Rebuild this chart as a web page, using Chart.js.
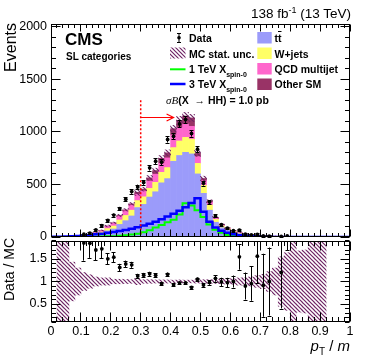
<!DOCTYPE html>
<html><head><meta charset="utf-8">
<script src="https://cdn.jsdelivr.net/npm/chart.js"></script>
<style>
html,body{margin:0;padding:0;background:#fff;}
#wrap{position:relative;width:374px;height:359px;font-family:"Liberation Sans",Arial,Helvetica,sans-serif;overflow:hidden;background:#fff;}
canvas{position:absolute;left:0;top:0;}
.t{position:absolute;white-space:nowrap;color:#000;line-height:1;}
.lg{position:absolute;white-space:nowrap;color:#000;line-height:1;font-size:10.5px;font-weight:bold;}
.sub{font-size:7px;position:relative;top:3.5px;}
.v{position:absolute;white-space:nowrap;line-height:1;writing-mode:vertical-rl;transform:rotate(180deg);color:#000;}
</style></head>
<body><div id="wrap">
<canvas id="main" width="374" height="359"></canvas>
<canvas id="ratio" width="374" height="359"></canvas>
<svg width="374" height="359" style="position:absolute;left:0;top:0">
<defs><pattern id="hp" width="4" height="4" patternUnits="userSpaceOnUse"><path d="M0,0 L4,4 M-1,3 L1,5 M3,-1 L5,1" stroke="rgb(110,35,100)" stroke-width="1.2"/></pattern></defs>
<line x1="179" y1="33" x2="179" y2="42.5" stroke="#000" stroke-width="1"/>
<line x1="177" y1="33.5" x2="181" y2="33.5" stroke="#000" stroke-width="1"/>
<line x1="177" y1="42.5" x2="181" y2="42.5" stroke="#000" stroke-width="1"/>
<circle cx="179" cy="37.7" r="1.8" fill="#000"/>
<rect x="170" y="47.5" width="15.5" height="11" fill="url(#hp)"/>
<line x1="170" y1="69.3" x2="185.5" y2="69.3" stroke="#00ff00" stroke-width="2"/>
<line x1="170" y1="84" x2="185.5" y2="84" stroke="#0000ff" stroke-width="2.5"/>
<rect x="257.3" y="32" width="14.4" height="11.5" fill="rgb(155,155,250)"/>
<rect x="257.3" y="47.5" width="14.4" height="11.5" fill="rgb(255,255,102)"/>
<rect x="257.3" y="63" width="14.4" height="11.5" fill="rgb(255,102,204)"/>
<rect x="257.3" y="78.5" width="14.4" height="11.5" fill="rgb(153,51,102)"/>
</svg>
<div class="t" style="right:23px;top:6.8px;font-size:13.5px">138 fb<span style="font-size:9px;position:relative;top:-5px">-1</span> (13 TeV)</div>
<div class="t" style="left:65px;top:30.6px;font-size:17px;font-weight:bold">CMS</div>
<div class="t" style="left:66px;top:52px;font-size:10px;font-weight:bold">SL categories</div>
<div class="lg" style="left:189px;top:32.6px">Data</div>
<div class="lg" style="left:189px;top:48.6px">MC stat. unc.</div>
<div class="lg" style="left:189px;top:64.1px">1 TeV X<span class="sub">spin-0</span></div>
<div class="lg" style="left:189px;top:79.2px">3 TeV X<span class="sub">spin-0</span></div>
<div class="lg" style="left:166px;top:94.9px"><span style="font-family:'Liberation Serif',serif;font-style:italic;font-weight:normal;font-size:11px">σB</span>(X &nbsp;→ HH) = 1.0 pb</div>
<div class="lg" style="left:274.5px;top:32.6px">t<span style="text-decoration:overline">t</span></div>
<div class="lg" style="left:274.5px;top:48.6px">W+jets</div>
<div class="lg" style="left:274.5px;top:64.1px">QCD multijet</div>
<div class="lg" style="left:274.5px;top:79.2px">Other SM</div>
<div class="v" style="left:3px;top:23px;font-size:16px">Events</div>
<div class="v" style="left:2px;top:238px;font-size:14px">Data / MC</div>
<div class="t" style="right:24px;top:338px;font-size:15px"><i>p</i><sub style="font-size:10px;vertical-align:-4px">T</sub> / <i>m</i></div>
</div>
<script>
// ---- data ----
const binEdges = [0,0.02,0.04,0.06,0.08,0.1,0.12,0.14,0.16,0.18,0.2,0.22,0.24,0.26,0.28,0.3,0.32,0.34,0.36,0.38,0.4,0.42,0.44,0.46,0.48,0.5,0.52,0.54,0.56,0.58,0.6,0.62,0.64,0.66,0.68,0.7,0.72,0.74,0.76,0.78,0.8,0.82,0.84,0.86,0.88,0.9,0.92,0.94,0.96,0.98,1];
const ttbar   = [0,1,1.5,2.5,4,7,10,21,34,58, 76,120,155,200,280,310,380,430,515,555, 720,775,805,790,600,415,255,140,88,63, 44,31,22,16,11.5,8.6,6.5,5,3.6,2.9, 2.2,1.8,1.5,1.1,0.9,0.7,0,0,0,0];
const wjets   = [0,0.5,0.8,1.2,2,3,4.5,9,13,22, 28,42,50,55,66,72,82,90,100,105, 130,138,142,140,100,75,48,27,17,13, 9,6,4.5,3.5,2.6,2,1.5,1.2,0.8,0.7, 0.5,0.4,0.3,0.25,0.2,0.2,0,0,0,0];
const qcd     = [0,0.4,0.5,1,1.5,3,4,8,12,20, 25,35,43,48,60,56,70,77,88,92, 120,128,127,122,65,46,27,14,9,6, 5,3.5,2.5,1.8,1.3,1,0.7,0.6,0.4,0.3, 0.2,0.2,0.15,0.1,0.07,0.07,0,0,0,0];
const otherSM = [0,0.1,0.2,0.3,0.5,1,1.5,2,3,5, 6,8,10,12,19,17,30,35,45,48, 60,67,76,80,30,20,10,6,4,3, 2,1.5,1,0.7,0.6,0.4,0.3,0.2,0.2,0.1, 0.1,0.1,0.05,0.05,0.03,0.03,0,0,0,0];
const mcStatRelUnc = [0,1,1,0.43,0.3,0.2,0.15,0.1,0.08,0.08, 0.05,0.05,0.045,0.04,0.07,0.04,0.04,0.035,0.035,0.035, 0.03,0.035,0.03,0.03,0.035,0.04,0.04,0.045,0.05,0.055, 0.06,0.08,0.09,0.1,0.13,0.16,0.22,0.3,0.55,0.64, 1,0.68,0.7,1,1,1,0,0,0,0];
const sig1TeV = [0,0,0,0,1,1,2,3,4,6, 8,12,17,23,32,45,65,90,115,140, 165,215,320,300,255,190,120,70,40,20, 10,6,3,2,1,0,0,0,0,0, 0,0,0,0,0,0,0,0,0,0];
const sig3TeV = [2,3,5,7,10,14,19,25,32,40, 48,57,67,78,92,110,125,145,168,195, 220,250,282,323,368,240,145,90,60,40, 26,17,11,7,5,3,2,1,1,0, 0,0,0,0,0,0,0,0,0,0];
const dataCounts = [null,null,null,null,null,26,37,68,107,158, 208,269,359,432,476,519,658,720,711,928, 958,1075,1116,985,835,512,333,200,117,83, 60,65,27,21,25,11,9,null,6,10, null,null,null,null,null,null,null,null,null,null];
const dataErr    = [null,null,null,null,null,5.5,6.5,9,13,12.5, 14.5,16.5,19,21,22,23,26,27,27,30, 31,33,33,31,29,23,18,14,11,9, 8,12,9,8.4,9.6,8.4,6.8,null,4,3.2, null,null,null,null,null,null,null,null,null,null];
const xTicks = [0,0.1,0.2,0.3,0.4,0.5,0.6,0.7,0.8,0.9,1];
const yTicksMain = [0,500,1000,1500,2000];
const yTicksRatio = [0.5,1,1.5];
const cutValue = 0.3, cutLineTop = 1300, arrowY = 1140, arrowTip = 0.41;

// ---- derived tables ----
const centers = binEdges.slice(0,-1).map((e,i)=>(e+binEdges[i+1])/2);
const mcTotal = centers.map((_,i)=>ttbar[i]+wjets[i]+qcd[i]+otherSM[i]);
const barPts = arr => centers.map((x,i)=>({x, y: arr[i]}));
const stepPts = arr => binEdges.map((x,i)=>({x, y: arr[Math.min(i, arr.length-1)]}));
const mainHatch = centers.map((x,i)=>({x, y: mcTotal[i]>0 && mcStatRelUnc[i]>0 ? [mcTotal[i]*(1-mcStatRelUnc[i]), mcTotal[i]*(1+mcStatRelUnc[i])] : null}));
const ratioHatch = centers.map((x,i)=>({x, y: mcStatRelUnc[i]>0 ? [1-mcStatRelUnc[i], 1+mcStatRelUnc[i]] : null}));
const dataPts = centers.map((x,i)=>dataCounts[i]==null?null:{x, y:dataCounts[i]}).filter(p=>p);
const ratioPts = centers.map((x,i)=>dataCounts[i]==null?null:{x, y:dataCounts[i]/mcTotal[i]}).filter(p=>p);

const COL = {tt:'rgb(155,155,250)', w:'rgb(255,255,102)', qcd:'rgb(255,102,204)', oth:'rgb(153,51,102)', hatch:'rgb(110,35,100)'};
function makeHatch(color){
  const s=4, c=document.createElement('canvas'); c.width=s; c.height=s;
  const g=c.getContext('2d'); g.strokeStyle=color; g.lineWidth=1.2; g.beginPath();
  g.moveTo(0,0); g.lineTo(s,s); g.moveTo(-1,s-1); g.lineTo(1,s+1); g.moveTo(s-1,-1); g.lineTo(s+1,1); g.stroke();
  return g.createPattern(c,'repeat');
}
const hatchPat = makeHatch(COL.hatch);

Chart.defaults.font.family = '"Liberation Sans", Arial, Helvetica, sans-serif';
Chart.defaults.color = '#000';

function drawTicks(ctx, a, xs, ys, o){
  ctx.strokeStyle='#000'; ctx.lineWidth=1; ctx.setLineDash([]);
  ctx.beginPath();
  const T=Math.round(a.top)+0.5, B=Math.round(a.bottom)-0.5, L=Math.round(a.left)+0.5, R=Math.round(a.right)-0.5;
  for(let k=0;k<=50;k++){
    const v=k*0.02, p=Math.floor(xs.getPixelForValue(v))+0.5, len=(k%5===0)?o.xMaj:o.xMin;
    ctx.moveTo(p,B); ctx.lineTo(p,B-len); ctx.moveTo(p,T); ctx.lineTo(p,T+len);
  }
  const n=Math.round((ys.max-o.yStart)/o.yStep);
  for(let k=0;k<=n;k++){
    const v=o.yStart+k*o.yStep; if(v>ys.max+1e-9) break;
    const p=Math.floor(ys.getPixelForValue(v))+0.5;
    const major=Math.abs(v/o.yMajor-Math.round(v/o.yMajor))<1e-6;
    const len=major?o.yMaj:o.yMin;
    ctx.moveTo(L,p); ctx.lineTo(L+len,p); ctx.moveTo(R,p); ctx.lineTo(R-len,p);
  }
  ctx.stroke();
  ctx.strokeRect(L,T,R-L,B-T);
}
function drawErr(ctx, a, xs, ys, x, lo, hi){
  const p=Math.floor(xs.getPixelForValue(x))+0.5;
  const y1=ys.getPixelForValue(lo), y2=ys.getPixelForValue(hi);
  ctx.beginPath(); ctx.moveTo(p,y1); ctx.lineTo(p,y2);
  ctx.moveTo(p-2,Math.round(y1)+0.5); ctx.lineTo(p+2,Math.round(y1)+0.5);
  ctx.moveTo(p-2,Math.round(y2)+0.5); ctx.lineTo(p+2,Math.round(y2)+0.5);
  ctx.stroke();
}

const mainPlugin = {
  id:'mainDeco',
  afterDatasetsDraw(chart){
    const {ctx, chartArea:a} = chart; const xs=chart.scales.x, ys=chart.scales.y;
    ctx.save();
    // cut line + arrow
    ctx.strokeStyle='#ff0000'; ctx.lineWidth=1.5; ctx.setLineDash([2,2]);
    const cx=xs.getPixelForValue(cutValue);
    ctx.beginPath(); ctx.moveTo(cx, ys.getPixelForValue(cutLineTop)); ctx.lineTo(cx, ys.getPixelForValue(0)); ctx.stroke();
    ctx.setLineDash([]); ctx.lineWidth=1.2;
    const ay=Math.round(ys.getPixelForValue(arrowY))+0.5, tx=xs.getPixelForValue(arrowTip);
    ctx.beginPath(); ctx.moveTo(cx,ay); ctx.lineTo(tx,ay); ctx.moveTo(tx-7,ay-3.5); ctx.lineTo(tx,ay); ctx.lineTo(tx-7,ay+3.5); ctx.stroke();
    // data error bars
    ctx.strokeStyle='#000'; ctx.lineWidth=1;
    centers.forEach((x,i)=>{ if(dataCounts[i]==null) return; drawErr(ctx,a,xs,ys,x,dataCounts[i]-dataErr[i],dataCounts[i]+dataErr[i]); });
    drawTicks(ctx,a,xs,ys,{xMaj:7,xMin:3.5,yStart:0,yStep:100,yMajor:500,yMaj:9,yMin:4.5});
    ctx.restore();
  }
};
const ratioPlugin = {
  id:'ratioDeco',
  afterDatasetsDraw(chart){
    const {ctx, chartArea:a} = chart; const xs=chart.scales.x, ys=chart.scales.y;
    ctx.save();
    ctx.beginPath(); ctx.rect(a.left,a.top,a.width,a.height); ctx.clip();
    ctx.strokeStyle='#000'; ctx.lineWidth=1;
    centers.forEach((x,i)=>{ if(dataCounts[i]==null) return; const r=dataCounts[i]/mcTotal[i], e=dataErr[i]/mcTotal[i]; drawErr(ctx,a,xs,ys,x,r-e,r+e); });
    ctx.restore(); ctx.save();
    drawTicks(ctx,a,xs,ys,{xMaj:9,xMin:4.5,yStart:0.1,yStep:0.1,yMajor:0.5,yMaj:9,yMin:4.5});
    ctx.restore();
  }
};

const barCommon = {barPercentage:1, categoryPercentage:1, borderWidth:0};
new Chart(document.getElementById('main'), {
  type:'bar',
  data:{datasets:[
    {type:'scatter', label:'Data', data:dataPts, order:0, stack:'data', pointRadius:1.9, pointBackgroundColor:'#000', pointBorderWidth:0, showLine:false},
    {type:'line', label:'3 TeV X spin-0', data:stepPts(sig3TeV), stepped:true, borderColor:'#0000ff', borderWidth:2.5, pointRadius:0, fill:false, order:1, stack:'s3'},
    {type:'line', label:'1 TeV X spin-0', data:stepPts(sig1TeV), stepped:true, borderColor:'#00ff00', borderWidth:2, pointRadius:0, fill:false, order:2, stack:'s1'},
    Object.assign({label:'MC stat. unc.', data:mainHatch, backgroundColor:hatchPat, grouped:false, order:3, stack:'unc'}, barCommon),
    Object.assign({label:'tt', data:barPts(ttbar), backgroundColor:COL.tt, order:4, stack:'bkg'}, barCommon),
    Object.assign({label:'W+jets', data:barPts(wjets), backgroundColor:COL.w, order:4, stack:'bkg'}, barCommon),
    Object.assign({label:'QCD multijet', data:barPts(qcd), backgroundColor:COL.qcd, order:4, stack:'bkg'}, barCommon),
    Object.assign({label:'Other SM', data:barPts(otherSM), backgroundColor:COL.oth, order:4, stack:'bkg'}, barCommon)
  ]},
  options:{
    responsive:false, animation:false, events:[],
    layout:{padding:{left:0,right:24,top:24,bottom:122}},
    plugins:{legend:{display:false}, tooltip:{enabled:false}},
    scales:{
      x:{type:'linear', min:0, max:1, offset:false, display:false,
         afterBuildTicks:s=>{s.ticks=xTicks.map(v=>({value:v}));}},
      y:{type:'linear', min:0, max:2025, stacked:true,
         grid:{display:false, drawTicks:false}, border:{display:false},
         ticks:{padding:4, font:{size:12.5}, color:'#000', callback:v=>String(v)},
         afterBuildTicks:s=>{s.ticks=yTicksMain.map(v=>({value:v}));},
         afterFit:s=>{s.width=51;}}
    }
  },
  plugins:[mainPlugin]
});

new Chart(document.getElementById('ratio'), {
  type:'bar',
  data:{datasets:[
    {type:'scatter', label:'Data / MC', data:ratioPts, order:0, pointRadius:1.9, pointBackgroundColor:'#000', pointBorderWidth:0, showLine:false},
    Object.assign({label:'MC stat. unc.', data:ratioHatch, backgroundColor:hatchPat, order:1}, barCommon)
  ]},
  options:{
    responsive:false, animation:false, events:[],
    layout:{padding:{left:0,right:24,top:241,bottom:17}},
    plugins:{legend:{display:false}, tooltip:{enabled:false}},
    scales:{
      x:{type:'linear', min:0, max:1, offset:false,
         grid:{display:false, drawTicks:false}, border:{display:false},
         ticks:{padding:2, font:{size:12.5}, color:'#000', maxRotation:0, autoSkip:false, callback:v=>String(+v.toFixed(1))},
         afterBuildTicks:s=>{s.ticks=xTicks.map(v=>({value:v}));},
         afterFit:s=>{s.height=20;}},
      y:{type:'linear', min:0.1, max:1.9,
         grid:{display:false, drawTicks:false}, border:{display:false},
         ticks:{padding:4, font:{size:12.5}, color:'#000', callback:v=>String(v)},
         afterBuildTicks:s=>{s.ticks=yTicksRatio.map(v=>({value:v}));},
         afterFit:s=>{s.width=51;}}
    }
  },
  plugins:[ratioPlugin]
});
</script>
</body></html>
